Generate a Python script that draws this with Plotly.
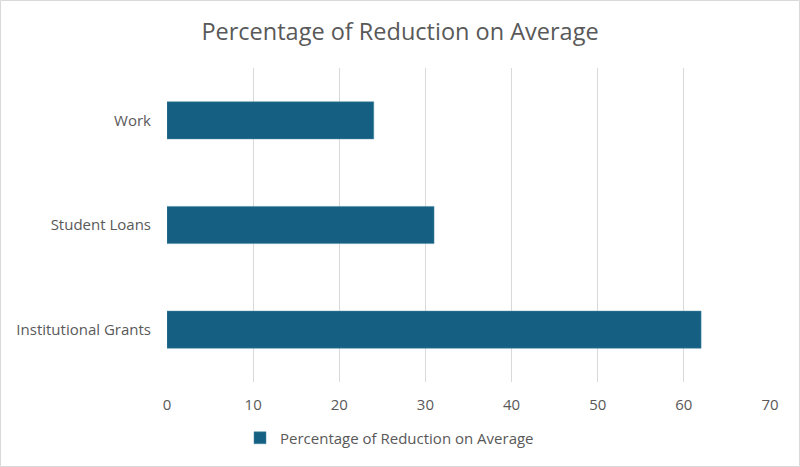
import plotly.graph_objects as go

categories = ["Institutional Grants", "Student Loans", "Work"]
values = [62, 31, 24]
series_name = "Percentage of Reduction on Average"
x_ticks = [0, 10, 20, 30, 40, 50, 60, 70]

W, H = 800, 467
ml, mr, mt, mb = 167, 30, 68, 85
pw, ph = W - ml - mr, H - mt - mb

fig = go.Figure()
fig.add_trace(go.Bar(
    y=categories, x=values, orientation="h", name=series_name,
    marker=dict(color="#156082", line=dict(color="#4a86a3", width=0.5)),
    width=0.355, showlegend=True,
))

font_fam = "Open Sans, Lato, sans-serif"
fig.update_layout(
    width=W, height=H,
    margin=dict(l=ml, r=mr, t=mt, b=mb),
    paper_bgcolor="white", plot_bgcolor="white",
    title=dict(text="Percentage of Reduction on Average", x=0.5, xanchor="center",
               y=1 - 32 / H, yanchor="middle",
               font=dict(family=font_fam, size=23.5, color="#595959")),
    xaxis=dict(range=[0, 70], tickvals=x_ticks, showgrid=True, gridcolor="#d9d9d9",
               gridwidth=1, zeroline=False, showline=False,
               tickfont=dict(family=font_fam, size=15, color="#595959"),
               ticks="", ticklabelstandoff=12),
    yaxis=dict(showgrid=False, zeroline=False, showline=False, ticks="",
               tickfont=dict(family=font_fam, size=15, color="#595959"),
               ticklabelstandoff=15),
    legend=dict(orientation="h", x=(240 - ml) / pw, xanchor="left",
                y=-(438 - (H - mb)) / ph, yanchor="middle",
                font=dict(family=font_fam, size=15, color="#595959")),
    bargap=0.64,
)

fig.add_shape(type="rect", xref="paper", yref="paper",
              x0=-(ml - 0.5) / pw, x1=1 + (mr - 0.5) / pw,
              y0=-(mb - 0.5) / ph, y1=1 + (mt - 0.5) / ph,
              line=dict(color="#d9d9d9", width=1), layer="below")

fig.write_html("out.html", config={"displayModeBar": False},
               post_script="document.body.style.margin='0';document.body.style.overflow='hidden';")
